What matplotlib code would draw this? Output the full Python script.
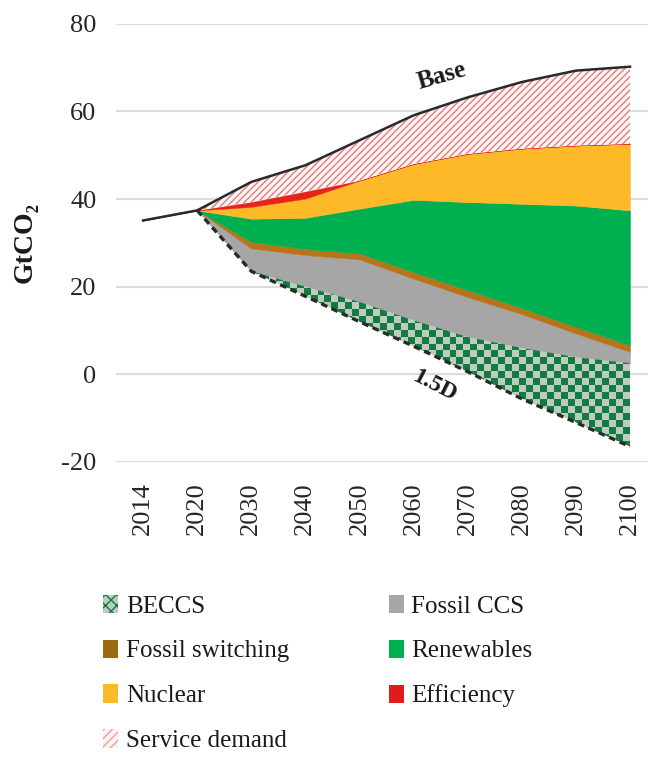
import numpy as np
import matplotlib
matplotlib.use('Agg')
import matplotlib.pyplot as plt
from matplotlib.patches import Patch, PathPatch
from matplotlib.colors import ListedColormap

plt.rcParams['font.family'] = ['Liberation Serif', 'DejaVu Serif']
plt.rcParams['hatch.linewidth'] = 1.0
plt.rcParams['axes.unicode_minus'] = False

years = ['2014', '2020', '2030', '2040', '2050', '2060', '2070', '2080', '2090', '2100']
# 1.5D pathway emissions (bottom of the stack), GtCO2
path_15d = [35.1, 37.4, 23.5, 17.8, 12.0, 6.4, 0.6, -5.6, -11.0, -16.5]
# wedges stacked on top of the 1.5D pathway, up to the Base line
beccs = [0, 0, 0, 2.2, 4.5, 5.9, 7.9, 11.6, 14.9, 19.0]
fossil_ccs = [0, 0, 5.2, 7.2, 9.7, 9.5, 9.1, 7.7, 5.4, 2.6]
fossil_switch = [0, 0, 1.5, 1.4, 1.4, 1.5, 1.6, 1.4, 1.5, 1.5]
renewables = [0, 0, 5.3, 7.1, 10.2, 16.5, 20.1, 23.8, 27.7, 30.8]
nuclear = [0, 0, 2.7, 4.4, 6.4, 8.2, 11.0, 12.6, 13.7, 15.2]
efficiency = [0, 0, 1.1, 1.6, 0, 0, 0, 0, 0, 0]
service = [0, 0, 4.6, 6.0, 9.2, 11.1, 12.9, 15.2, 17.1, 17.6]

names = ['BECCS', 'Fossil CCS', 'Fossil switching', 'Renewables',
         'Nuclear', 'Efficiency', 'Service demand']
layers = [beccs, fossil_ccs, fossil_switch, renewables, nuclear, efficiency, service]
styles = [
    dict(facecolor='none', linewidth=0),
    dict(facecolor='#a6a6a6', edgecolor='#a6a6a6', linewidth=0.3),
    dict(facecolor='#b8741a', edgecolor='#b8741a', linewidth=0.3),
    dict(facecolor='#00b050', edgecolor='#00b050', linewidth=0.3),
    dict(facecolor='#fdb927', edgecolor='#fdb927', linewidth=0.3),
    dict(facecolor='#e8231a', edgecolor='#e8231a', linewidth=0.3),
    dict(facecolor='#fff5f5', edgecolor='#e27c7c', hatch='/////', linewidth=0),
]

fig = plt.figure(figsize=(6.48, 7.66), dpi=100)
ax = fig.add_axes([0.179, 0.397, 0.835, 0.572])

x = np.arange(len(years))
bottom = np.array(path_15d, dtype=float)
polys = []
for vals, st in zip(layers, styles):
    top = bottom + np.array(vals, dtype=float)
    polys.append(ax.fill_between(x, bottom, top, zorder=2, **st))
    bottom = top
base = bottom

# checkerboard texture for BECCS, clipped to its wedge
ny, nx = 63, 78
iy, ix = np.indices((ny, nx))
checker = (ix + iy) % 2
im = ax.imshow(checker, cmap=ListedColormap(['#bccdbc', '#137a44']),
               extent=(-0.5, 9.5, -20, 80), aspect='auto',
               interpolation='nearest', zorder=2)
clip = PathPatch(polys[0].get_paths()[0], transform=ax.transData,
                 facecolor='none', edgecolor='none')
ax.add_patch(clip)
im.set_clip_path(clip)

ax.plot(x, base, color='#2a2a2a', lw=1.8, zorder=4)
ax.plot(x[1:], path_15d[1:], color='#2a2a2a', lw=2.4,
        ls=(0, (2, 1.4)), zorder=4)

ax.text(5.52, 68.0, 'Base', rotation=16, fontsize=18, fontweight='bold',
        ha='center', va='center', color='#1a1a1a')
ax.text(5.38, -2.6, '1.5D', rotation=-27, fontsize=17, fontweight='bold',
        ha='center', va='center', color='#1a1a1a')

ax.set_xlim(-0.5, 9.5)
ax.set_ylim(-20, 80)
ax.set_yticks([-20, 0, 20, 40, 60, 80])
ax.set_xticks(x)
ax.set_xticklabels(years, rotation=90)
ax.tick_params(axis='both', length=0, labelsize=19, colors='#262626')
ax.tick_params(axis='y', pad=14)
ax.tick_params(axis='x', pad=15)
ax.grid(axis='y', color='#dcdcdc', lw=1.5)
ax.set_axisbelow(True)
for s in ax.spines.values():
    s.set_visible(False)
ax.set_ylabel('GtCO₂', fontsize=20, fontweight='bold', color='#1a1a1a')
ax.yaxis.set_label_coords(-0.145, 0.5)

handles = [
    Patch(facecolor='#bccdbc', edgecolor='#137a44', hatch='xxx', linewidth=0),
    Patch(facecolor='#a6a6a6'),
    Patch(facecolor='#9c6a10'),
    Patch(facecolor='#00b050'),
    Patch(facecolor='#fdb927'),
    Patch(facecolor='#e01b1b'),
    Patch(facecolor='#fff3f3', edgecolor='#e8a0a0', hatch='////', linewidth=0),
]
order = [0, 2, 4, 6, 1, 3, 5]
fig.legend([handles[i] for i in order], [names[i] for i in order],
           loc='upper left', bbox_to_anchor=(0.14, 0.24), ncol=2,
           frameon=False, fontsize=18, handlelength=0.6, handleheight=0.75,
           handletextpad=0.3, columnspacing=4.0, labelspacing=0.88,
           borderpad=0, labelcolor='#1a1a1a')

fig.savefig('out.png', dpi=100)
